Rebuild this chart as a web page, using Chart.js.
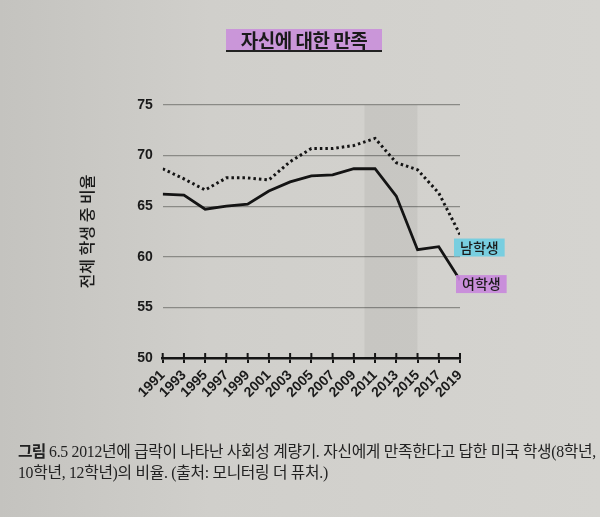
<!DOCTYPE html>
<html>
<head>
<meta charset="utf-8">
<script src="https://cdn.jsdelivr.net/npm/chart.js@4"></script>
<style>
  html, body { margin: 0; padding: 0; }
  body {
    width: 600px; height: 517px; overflow: hidden; position: relative;
    background: linear-gradient(90deg, #c4c3bf 0%, #d0cfcb 35%, #d5d4d0 100%);
  }
  #wrap { position: absolute; left: 0; top: 0; width: 600px; height: 517px; }
  #title {
    position: absolute; left: 226px; top: 29px; width: 156px; height: 21px;
    background: rgba(200, 135, 220, 0.8);
    border-bottom: 2px solid #222;
    font-family: "Noto Sans CJK KR", sans-serif; font-weight: 700; font-size: 19px;
    line-height: 21px; text-align: center; color: #1b1b1b; letter-spacing: -0.5px;
  }
  .cap {
    position: absolute; left: 18px; white-space: nowrap;
    font-family: "Liberation Serif", "Noto Sans CJK KR", serif; font-size: 15.8px;
    color: #222; letter-spacing: -0.3px;
  }
  .cap b { font-family: "Noto Sans CJK KR", sans-serif; font-weight: 700; letter-spacing: -0.8px; }
</style>
</head>
<body>
<div id="wrap"><canvas id="lineChart" width="600" height="517"></canvas></div>
<div id="title">자신에 대한 만족</div>
<div class="cap" style="top:439px"><b>그림</b> 6.5 2012년에 급락이 나타난 사회성 계량기. 자신에게 만족한다고 답한 미국 학생(8학년,</div>
<div class="cap" style="top:460px">10학년, 12학년)의 비율. (출처: 모니터링 더 퓨처.)</div>
<script>
// data
var years = [1991, 1993, 1995, 1997, 1999, 2001, 2003, 2005, 2007, 2009, 2011, 2013, 2015, 2017, 2019]
var boys = [68.7, 67.7, 66.6, 67.8, 67.8, 67.6, 69.4, 70.7, 70.7, 71.0, 71.7, 69.3, 68.6, 66.3, 62.2]
var girls = [66.2, 66.1, 64.7, 65.0, 65.2, 66.5, 67.4, 68.0, 68.1, 68.7, 68.7, 66.0, 60.7, 61.0, 57.7]
var seriesNames = ['남학생', '여학생']
var yTicks = [50, 55, 60, 65, 70, 75]
var shadeYears = [2010, 2015]

function points(vals) {
    return vals.map(function (v, i) { return { x: years[i], y: vals[i] } })
}

//- shaded band + upper half of the axis ticks + end labels -
var extras = {
    id: 'extras',
    beforeDatasetsDraw: function (chart) {
        var ctx = chart.ctx, x = chart.scales.x, y = chart.scales.y
        ctx.save()
        ctx.fillStyle = 'rgba(0,0,0,0.05)'
        var x0 = x.getPixelForValue(shadeYears[0]), x1 = x.getPixelForValue(shadeYears[1])
        var yt = y.getPixelForValue(yTicks[yTicks.length - 1]), yb = y.getPixelForValue(yTicks[0])
        ctx.fillRect(x0, yt, x1 - x0, yb - yt)
        ctx.restore()
    },
    afterDraw: function (chart) {
        var ctx = chart.ctx, x = chart.scales.x, y = chart.scales.y
        ctx.save()
        ctx.strokeStyle = '#151515'
        ctx.lineWidth = 2
        var yb = y.getPixelForValue(yTicks[0])
        years.forEach(function (yr) {
            var px = x.getPixelForValue(yr)
            ctx.beginPath()
            ctx.moveTo(px, yb - 5)
            ctx.lineTo(px, yb)
            ctx.stroke()
        })
        // end labels
        var last = years.length - 1
        var lx = x.getPixelForValue(years[last])
        var tags = [
            { text: seriesNames[0], v: boys[last], dy: 13, dx: 0, bg: 'rgba(110, 205, 225, 0.9)' },
            { text: seriesNames[1], v: girls[last], dy: 4, dx: 2, bg: 'rgba(200, 135, 220, 0.9)' }
        ]
        ctx.font = '500 14px "Noto Sans CJK KR"'
        ctx.textBaseline = 'middle'
        tags.forEach(function (t) {
            var cy = y.getPixelForValue(t.v) + t.dy
            var w = ctx.measureText(t.text).width + 12
            ctx.fillStyle = t.bg
            ctx.fillRect(lx - 6 + t.dx, cy - 9, w, 18)
            ctx.fillStyle = '#1b1b1b'
            ctx.fillText(t.text, lx + t.dx, cy)
        })
        ctx.restore()
    }
}

var ctx = document.getElementById('lineChart').getContext('2d')
new Chart(ctx, {
    type: 'line',
    data: {
        datasets: [
            {
                label: seriesNames[0],
                data: points(boys),
                borderColor: '#141414',
                borderWidth: 3,
                borderDash: [2.5, 3],
                pointRadius: 0,
                tension: 0
            },
            {
                label: seriesNames[1],
                data: points(girls),
                borderColor: '#141414',
                borderWidth: 2.8,
                pointRadius: 0,
                tension: 0
            }
        ]
    },
    options: {
        responsive: false,
        animation: false,
        layout: { padding: { left: 0, right: 140, top: 105, bottom: 99 } },
        plugins: { legend: { display: false }, tooltip: { enabled: false } },
        scales: {
            x: {
                type: 'linear',
                min: years[0],
                max: years[years.length - 1],
                afterFit: function (s) { s.height = 60 },
                grid: { display: true, drawOnChartArea: false, drawTicks: true, tickLength: 5, color: '#151515', lineWidth: 2 },
                border: { display: true, color: '#151515', width: 2.5 },
                ticks: {
                    stepSize: 2,
                    autoSkip: false,
                    maxRotation: 45,
                    minRotation: 45,
                    padding: 4,
                    color: '#1a1a1a',
                    font: { family: 'Liberation Sans', size: 14, weight: 'bold' },
                    callback: function (v) { return String(v) }
                }
            },
            y: {
                min: yTicks[0],
                max: yTicks[yTicks.length - 1],
                afterFit: function (s) { s.width = 162.7 },
                afterBuildTicks: function (s) { s.ticks = yTicks.map(function (v) { return { value: v } }) },
                grid: {
                    drawTicks: false,
                    color: function (c) { return c.tick && c.tick.value === yTicks[0] ? 'rgba(0,0,0,0)' : '#8a8a86' },
                    lineWidth: 1.2
                },
                border: { display: false },
                ticks: {
                    padding: 10,
                    color: '#1a1a1a',
                    font: { family: 'Liberation Sans', size: 14, weight: 'bold' }
                },
                title: {
                    display: true,
                    text: '전체 학생 중 비율',
                    color: '#1a1a1a',
                    padding: { top: 77, bottom: 0 },
                    font: { family: 'Noto Sans CJK KR', size: 16, weight: '500' }
                }
            }
        }
    },
    plugins: [extras]
})
</script>
</body>
</html>
